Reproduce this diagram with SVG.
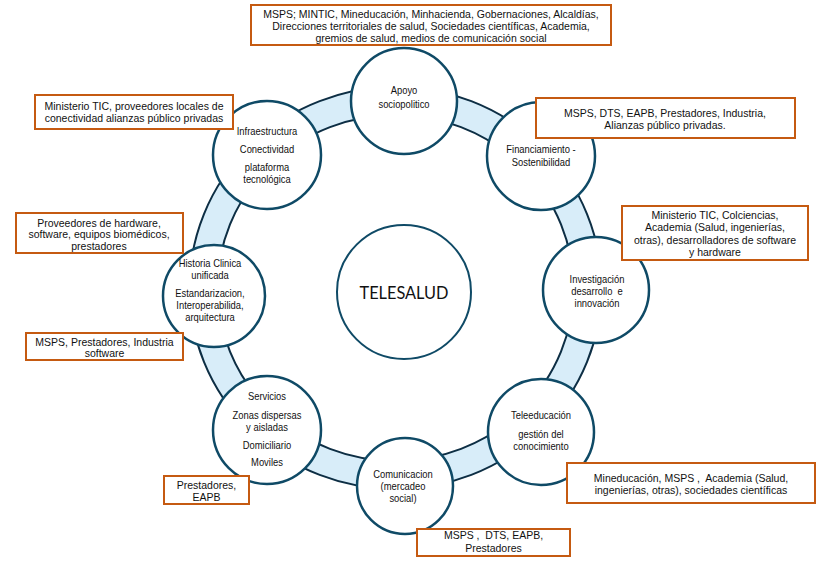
<svg xmlns="http://www.w3.org/2000/svg" width="834" height="562" viewBox="0 0 834 562">
<style>
.node{fill:#fff;stroke:#0f4a66;stroke-width:2.5}
.box{fill:#fff;stroke:#c55a11;stroke-width:2}
.bt{font-family:"Liberation Sans",Arial,sans-serif;font-size:10.5px;fill:#111;text-anchor:middle}
.nt{font-family:"Liberation Sans",Arial,sans-serif;font-size:10.8px;fill:#111;text-anchor:middle;transform-box:fill-box;transform-origin:center;transform:scaleX(0.87)}
.rl{fill:none;stroke:#0d2e44;stroke-width:2}
</style>
<rect width="834" height="562" fill="#fff"/>
<g id="connectors">
<ellipse cx="395.5" cy="288" rx="192" ry="187" fill="none" stroke="#d8edf9" stroke-width="28"/>
<ellipse class="rl" cx="395.5" cy="288" rx="206" ry="201"/>
<ellipse class="rl" cx="395.5" cy="288" rx="178" ry="173"/>
</g>
<g id="telesalud">
<circle cx="404" cy="292" r="67" fill="#fff" stroke="#0f4a66" stroke-width="2"/>
<text x="404" y="299" font-family="Lato,'Open Sans',sans-serif" font-size="18" fill="#111" text-anchor="middle" textLength="89" lengthAdjust="spacingAndGlyphs">TELESALUD</text>
</g>
<g id="apoyo">
<circle class="node" cx="404" cy="101" r="53"/>
<text class="nt" x="404" y="94">Apoyo</text>
<text class="nt" x="404" y="108">sociopolitico</text>
</g>
<g id="infraestructura">
<circle class="node" cx="267" cy="155" r="54"/>
<text class="nt" x="267" y="135">Infraestructura</text>
<text class="nt" x="267" y="153">Conectividad</text>
<text class="nt" x="267" y="171">plataforma</text>
<text class="nt" x="267" y="183">tecnológica</text>
</g>
<g id="financiamiento">
<circle class="node" cx="541" cy="156" r="54"/>
<text class="nt" x="541" y="153">Financiamiento -</text>
<text class="nt" x="541" y="166">Sostenibilidad</text>
</g>
<g id="investigacion">
<circle class="node" cx="596" cy="290" r="53"/>
<text class="nt" x="597" y="283">Investigación</text>
<text class="nt" x="597" y="295">desarrollo&#160; e</text>
<text class="nt" x="597" y="307">innovación</text>
</g>
<g id="teleeducacion">
<circle class="node" cx="541" cy="432" r="53"/>
<text class="nt" x="541" y="419">Teleeducación</text>
<text class="nt" x="541" y="438">gestión del</text>
<text class="nt" x="541" y="450">conocimiento</text>
</g>
<g id="comunicacion">
<circle class="node" cx="405" cy="486" r="48"/>
<text class="nt" x="403" y="478">Comunicacion</text>
<text class="nt" x="403" y="490">(mercadeo</text>
<text class="nt" x="403" y="502">social)</text>
</g>
<g id="servicios">
<circle class="node" cx="267" cy="430" r="54"/>
<text class="nt" x="267" y="400">Servicios</text>
<text class="nt" x="267" y="419">Zonas dispersas</text>
<text class="nt" x="267" y="431">y aisladas</text>
<text class="nt" x="267" y="449">Domiciliario</text>
<text class="nt" x="267" y="466">Moviles</text>
</g>
<g id="historia">
<circle class="node" cx="214" cy="296" r="51"/>
<text class="nt" x="210" y="267">Historia Clinica</text>
<text class="nt" x="210" y="279">unificada</text>
<text class="nt" x="210" y="297">Estandarizacion,</text>
<text class="nt" x="210" y="309">Interoperabilida,</text>
<text class="nt" x="210" y="321">arquitectura</text>
</g>
<g id="box-apoyo">
<rect class="box" x="251" y="5" width="360" height="40"/>
<text class="bt" x="431" y="18">MSPS; MINTIC, Mineducación, Minhacienda, Gobernaciones, Alcaldías,</text>
<text class="bt" x="431" y="30">Direcciones territoriales de salud, Sociedades científicas, Academia,</text>
<text class="bt" x="431" y="42">gremios de salud, medios de comunicación social</text>
</g>
<g id="box-infraestructura">
<rect class="box" x="35" y="95" width="198" height="34"/>
<text class="bt" x="134" y="110">Ministerio TIC, proveedores locales de</text>
<text class="bt" x="134" y="122">conectividad alianzas público privadas</text>
</g>
<g id="box-financiamiento">
<rect class="box" x="536" y="98" width="259" height="40"/>
<text class="bt" x="665" y="117">MSPS, DTS, EAPB, Prestadores, Industria,</text>
<text class="bt" x="665" y="129">Alianzas público privadas.</text>
</g>
<g id="box-investigacion">
<rect class="box" x="622" y="206" width="186" height="54"/>
<text class="bt" x="715" y="219">Ministerio TIC, Colciencias,</text>
<text class="bt" x="715" y="231">Academia (Salud, ingenierías,</text>
<text class="bt" x="715" y="244">otras), desarrolladores de software</text>
<text class="bt" x="715" y="256">y hardware</text>
</g>
<g id="box-historia-1">
<rect class="box" x="16" y="213" width="167" height="40"/>
<text class="bt" x="99" y="227">Proveedores de hardware,</text>
<text class="bt" x="99" y="238">software, equipos biomédicos,</text>
<text class="bt" x="99" y="250">prestadores</text>
</g>
<g id="box-historia-2">
<rect class="box" x="26" y="333" width="157" height="27"/>
<text class="bt" x="104.5" y="346">MSPS, Prestadores, Industria</text>
<text class="bt" x="104.5" y="357">software</text>
</g>
<g id="box-servicios">
<rect class="box" x="164" y="476" width="85" height="28"/>
<text class="bt" x="206.5" y="489">Prestadores,</text>
<text class="bt" x="206.5" y="501">EAPB</text>
</g>
<g id="box-comunicacion">
<rect class="box" x="417" y="529" width="153" height="27"/>
<text class="bt" x="493.5" y="539">MSPS ,&#160; DTS, EAPB,</text>
<text class="bt" x="493.5" y="552">Prestadores</text>
</g>
<g id="box-teleeducacion">
<rect class="box" x="567" y="463" width="248" height="40"/>
<text class="bt" x="691" y="482">Mineducación, MSPS ,&#160; Academia (Salud,</text>
<text class="bt" x="691" y="494">ingenierías, otras), sociedades científicas</text>
</g>
</svg>
